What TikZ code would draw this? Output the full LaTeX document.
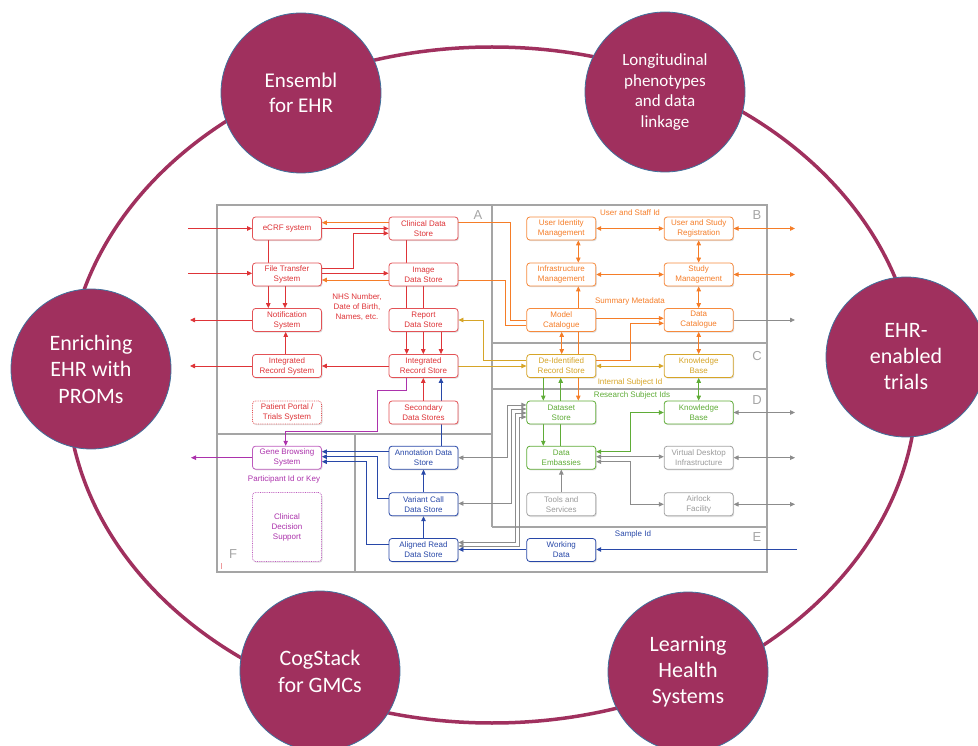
\documentclass[tikz,border=0pt]{standalone}
\usepackage{fontspec}
\setmainfont{Liberation Sans}
\newfontfamily\calfont{Carlito}
\usetikzlibrary{arrows.meta,shadows,calc}
\pgfdeclarelayer{background}
\pgfsetlayers{background,main}
\definecolor{cred}{RGB}{222,52,56}
\definecolor{corange}{RGB}{245,125,40}
\definecolor{cgold}{RGB}{214,165,40}
\definecolor{cgreen}{RGB}{95,172,55}
\definecolor{cgray}{RGB}{140,140,140}
\definecolor{cgraytext}{RGB}{155,155,155}
\definecolor{cblue}{RGB}{40,72,168}
\definecolor{cpurple}{RGB}{172,50,172}
\definecolor{cframe}{RGB}{165,165,165}
\definecolor{cmaroon}{RGB}{160,48,94}
\definecolor{ccircle}{RGB}{65,113,156}
\tikzset{
  box/.style={draw, rounded corners=3pt, fill=white, minimum width=69pt, minimum height=23pt,
    inner sep=0pt, align=center, font=\fontsize{8}{10}\selectfont, line width=0.8pt,
    drop shadow={shadow xshift=1pt, shadow yshift=-1.2pt, opacity=0.25}},
  rbox/.style={box, draw=cred!85, text=cred},
  obox/.style={box, draw=corange!90, text=corange},
  ybox/.style={box, draw=cgold, text=cgold},
  gbox/.style={box, draw=cgreen, text=cgreen},
  grbox/.style={box, draw=cgray!80, text=cgraytext},
  bbox/.style={box, draw=cblue, text=cblue},
  pbox/.style={box, draw=cpurple!80, text=cpurple},
  con/.style={line width=0.8pt},
  arr/.style={con, -{Triangle[length=5pt,width=4.5pt]}},
  darr/.style={con, {Triangle[length=5pt,width=4.5pt]}-{Triangle[length=5pt,width=4.5pt]}},
  frm/.style={draw=cframe, line width=1.8pt},
  lab/.style={font=\fontsize{8}{10}\selectfont, align=center, inner sep=0pt},
  flab/.style={font=\fontsize{13}{15}\selectfont, text=cframe, inner sep=0pt},
  bigc/.style={circle, fill=cmaroon, draw=ccircle, line width=0.8pt, minimum size=160pt,
    inner sep=0pt, align=center, text=white},
}
\begin{document}
\begin{tikzpicture}[x=1pt,y=-1pt]
\useasboundingbox (0,0) rectangle (978,746);
\clip (0,0) rectangle (978,746);

% surrounding ellipse and circles
\draw[cmaroon, line width=3.5pt] (492,385) ellipse [x radius=425, y radius=338];
\node[bigc, font=\calfont\fontsize{21}{25}\selectfont] (c1) at (301,93) {Ensembl\\for EHR};
\node[bigc, font=\calfont\fontsize{17}{20.7}\selectfont] (c2) at (665,92) {Longitudinal\\phenotypes\\and data\\linkage};
\node[bigc, font=\calfont\fontsize{22}{26.5}\selectfont] (c3) at (91,369) {Enriching\\EHR with\\PROMs};
\node[bigc, font=\calfont\fontsize{22}{26}\selectfont] (c4) at (906,357) {EHR-\\enabled\\trials};
\node[bigc, font=\calfont\fontsize{22}{27}\selectfont] (c5) at (320,671) {CogStack\\for GMCs};
\node[bigc, font=\calfont\fontsize{22}{26}\selectfont] (c6) at (688,672) {Learning\\Health\\Systems};

% A
\node[rbox] (ecrf) at (287,228.5) {eCRF system};
\node[rbox] (clin) at (423.5,228.5) {Clinical Data\\Store};
\node[rbox] (fts) at (287,274.5) {File Transfer\\System};
\node[rbox] (img) at (423.5,274.5) {Image\\Data Store};
\node[rbox] (notif) at (287,320) {Notification\\System};
\node[rbox] (rep) at (423.5,320) {Report\\Data Store};
\node[rbox] (irsys) at (287,366) {Integrated\\Record System};
\node[rbox] (irst) at (423.5,366) {Integrated\\Record Store};
\node[rbox, densely dotted] (portal) at (287,412.5) {Patient Portal /\\Trials System};
\node[rbox] (sec) at (423.5,412.5) {Secondary\\Data Stores};
% F
\node[pbox] (gene) at (287,457.7) {Gene Browsing\\System};
\node[pbox, densely dotted, minimum height=69pt] (cds) at (287,527) {Clinical\\Decision\\Support};
% E
\node[bbox] (ann) at (423.5,457.7) {Annotation Data\\Store};
\node[bbox] (var) at (423.5,504.3) {Variant Call\\Data Store};
\node[bbox] (aln) at (423.5,550) {Aligned Read\\Data Store};
\node[bbox] (work) at (561.3,550) {Working\\Data};
% B
\node[obox] (uim) at (561.3,228.5) {User Identity\\Management};
\node[obox] (usr) at (698.7,228.5) {User and Study\\Registration};
\node[obox] (inf) at (561.3,274.5) {Infrastructure\\Management};
\node[obox] (stm) at (698.7,274.5) {Study\\Management};
\node[obox] (mod) at (561.3,320) {Model\\Catalogue};
\node[obox] (dcat) at (698.7,320) {Data\\Catalogue};
% C
\node[ybox] (deid) at (561.3,366) {De-Identified\\Record Store};
\node[ybox] (kbc) at (698.7,366) {Knowledge\\Base};
% D
\node[gbox] (dss) at (561.3,412.5) {Dataset\\Store};
\node[gbox] (kbd) at (698.7,412.5) {Knowledge\\Base};
\node[gbox] (emb) at (561.3,457.7) {Data\\Embassies};
\node[grbox] (vdi) at (698.7,457.7) {Virtual Desktop\\Infrastructure};
\node[grbox] (tools) at (561.3,504.3) {Tools and\\Services};
\node[grbox] (air) at (698.7,504.3) {Airlock\\Facility};

% labels
\node[lab, text=cred] (nhs) at (357,306.7) {NHS Number,\\Date of Birth,\\Names, etc.};
\node[lab, text=corange] (lusr) at (630,212.7) {User and Staff Id};
\node[lab, text=corange] (lsum) at (630,301.7) {Summary Metadata};
\node[lab, text=cgold] (lint) at (630,382.7) {Internal Subject Id};
\node[lab, text=cgreen] (lres) at (632,395.7) {Research Subject Ids};
\node[lab, text=cblue] (lsam) at (633,534) {Sample Id};
\node[lab, text=cpurple] (lpar) at (284,479.3) {Participant Id or Key};
\node[flab] (fa) at (478,215) {A};
\node[flab] (fb) at (757,215) {B};
\node[flab] (fc) at (757,356) {C};
\node[flab] (fd) at (757,400) {D};
\node[flab] (fe) at (757,537) {E};
\node[flab] (ff) at (233,554) {F};

% free ends
\coordinate (inA) at (188,228.5);
\coordinate (inB) at (188,273.3);
\coordinate (outA) at (190,320);
\coordinate (outB) at (190,366);
\coordinate (outC) at (191,457.7);
\coordinate (outR1) at (795,228.5);
\coordinate (outR2) at (795,274.5);
\coordinate (outR3) at (795,320);
\coordinate (outR4) at (795,412.5);
\coordinate (outR5) at (795,457.7);
\coordinate (outR6) at (795,504.3);
\coordinate (inR) at (797,549.5);

\begin{pgfonlayer}{background}
% frames
\draw[frm] (217,205) rectangle (767,572);
\draw[frm] (492,205) -- (492,527);
\draw[frm] (217,434) -- (492,434);
\draw[frm] (355,434) -- (355,572);
\draw[frm] (492,343) -- (767,343);
\draw[frm] (492,389) -- (767,389);
\draw[frm] (492,527) -- (767,527);
\draw[cred!50, line width=0.6pt] (221,563) -- (221,569);

% red
\begin{scope}[color=cred]
\draw[arr] (inA) -- (ecrf.west);
\draw[arr] (inB) -- (fts.west |- inB);
\draw[arr] (notif.west) -- (outA);
\draw[arr] (irsys.west) -- (outB);
\draw[arr] (ecrf.east) -- (clin.west);
\draw[arr] (fts.east |- 0,268.3) -| (353,233.3) -- (clin.west |- 0,233.3);
\draw[arr] (fts.east |- 0,273.3) -- (img.west |- 0,273.3);
\draw[arr] (ecrf.south -| 268.3,0) -- (notif.north -| 268.3,0);
\draw[arr] (fts.south -| 285,0) -- (notif.north -| 285,0);
\draw[arr] (irsys.north -| 285.7,0) -- (notif.south -| 285.7,0);
\draw[arr] (clin.south -| 406.7,0) -- (irst.north -| 406.7,0);
\draw[arr] (img.south -| 423.3,0) -- (irst.north -| 423.3,0);
\draw[arr] (rep.south -| 441,0) -- (irst.north -| 441,0);
\draw[arr] (irst.west) -- (irsys.east);
\draw[arr] (sec.north -| 423.3,0) -- (irst.south -| 423.3,0);
\end{scope}

% orange
\begin{scope}[color=corange]
\draw[arr] (mod.west |- 0,320) -| (510.7,222.7) -- (ecrf.east |- 0,222.7);
\draw[arr] (mod.west |- 0,325) -| (505.3,280) -- (fts.east |- 0,280);
\draw[darr] (uim.east) -- (usr.west);
\draw[darr] (inf.east) -- (stm.west);
\draw[darr] (usr.east) -- (outR1);
\draw[darr] (stm.east) -- (outR2);
\draw[darr] (uim.south -| 578.3,0) -- (inf.north -| 578.3,0);
\draw[darr] (usr.south) -- (stm.north);
\draw[darr] (stm.south) -- (dcat.north);
\draw[darr] (inf.south -| 578.3,0) -- (dss.north -| 578.3,0);
\draw[darr] (mod.south -| 561.7,0) -- (deid.north -| 561.7,0);
\draw[arr] (mod.east |- 0,318.3) -- (dcat.west |- 0,318.3);
\draw[arr] (deid.east |- 0,360) -| (630,323.3) -- (dcat.west |- 0,323.3);
\draw[darr] (dcat.south) -- (kbc.north);
\end{scope}

% gold
\begin{scope}[color=cgold]
\draw[arr] (irst.east) -- (deid.west);
\draw[arr] (deid.west |- 0,360) -| (483.3,320) -- (rep.east);
\draw[darr] (deid.east) -- (kbc.west);
\end{scope}

% green
\begin{scope}[color=cgreen]
\draw[arr] (deid.south -| 543.3,0) -- (dss.north -| 543.3,0);
\draw[arr] (emb.north -| 560.7,0) -- (deid.south -| 560.7,0);
\draw[arr] (dss.south -| 543.3,0) -- (emb.north -| 543.3,0);
\draw[darr] (kbc.south) -- (kbd.north);
\draw[darr] (emb.east |- 0,451.7) -| (630,412.5) -- (kbd.west);
\end{scope}

% gray
\begin{scope}[color=cgray]
\draw[arr] (dcat.east) -- (outR3);
\draw[darr] (kbd.east) -- (outR4);
\draw[darr] (vdi.west |- 0,456.7) -- (emb.east |- 0,456.7);
\draw[darr] (emb.east |- 0,461.7) -| (630,504.3) -- (air.west);
\draw[darr] (vdi.east) -- (outR5);
\draw[darr] (air.east) -- (outR6);
\draw[arr] (tools.north) -- (emb.south);
\draw[darr] (dss.west |- 0,405) -| (507,457.7) -- (ann.east);
\draw[darr] (dss.west |- 0,409) -| (511,503.5) -- (var.east |- 0,503.5);
\draw[darr] (dss.west |- 0,413) -| (515,542.5) -- (aln.east |- 0,542.5);
\draw[darr] (dss.west |- 0,417) -| (519,546) -- (aln.east |- 0,546);
\end{scope}

% blue
\begin{scope}[color=cblue]
\draw[arr] (ann.north -| 441,0) -- (irst.south -| 441,0);
\draw[arr] (var.north) -- (ann.south);
\draw[arr] (aln.north) -- (var.south);
\draw[arr] (ann.west |- 0,451.7) -- (gene.east |- 0,451.7);
\draw[arr] (var.west |- 0,498.3) -| (377.7,456.7) -- (gene.east |- 0,456.7);
\draw[arr] (aln.west |- 0,544.3) -| (366.7,461.7) -- (gene.east |- 0,461.7);
\draw[arr] (inR) -- (work.east |- inR);
\draw[arr] (work.west |- 0,549.5) -- (aln.east |- 0,549.5);
\end{scope}

% purple
\begin{scope}[color=cpurple]
\draw[arr] (irst.south -| 406.7,0) -- (406.7,390) -- (377.7,390) -- (377.7,431) -- (285.7,431) -- (gene.north -| 285.7,0);
\draw[arr] (gene.west) -- (outC);
\end{scope}
\end{pgfonlayer}
\end{tikzpicture}
\end{document}
